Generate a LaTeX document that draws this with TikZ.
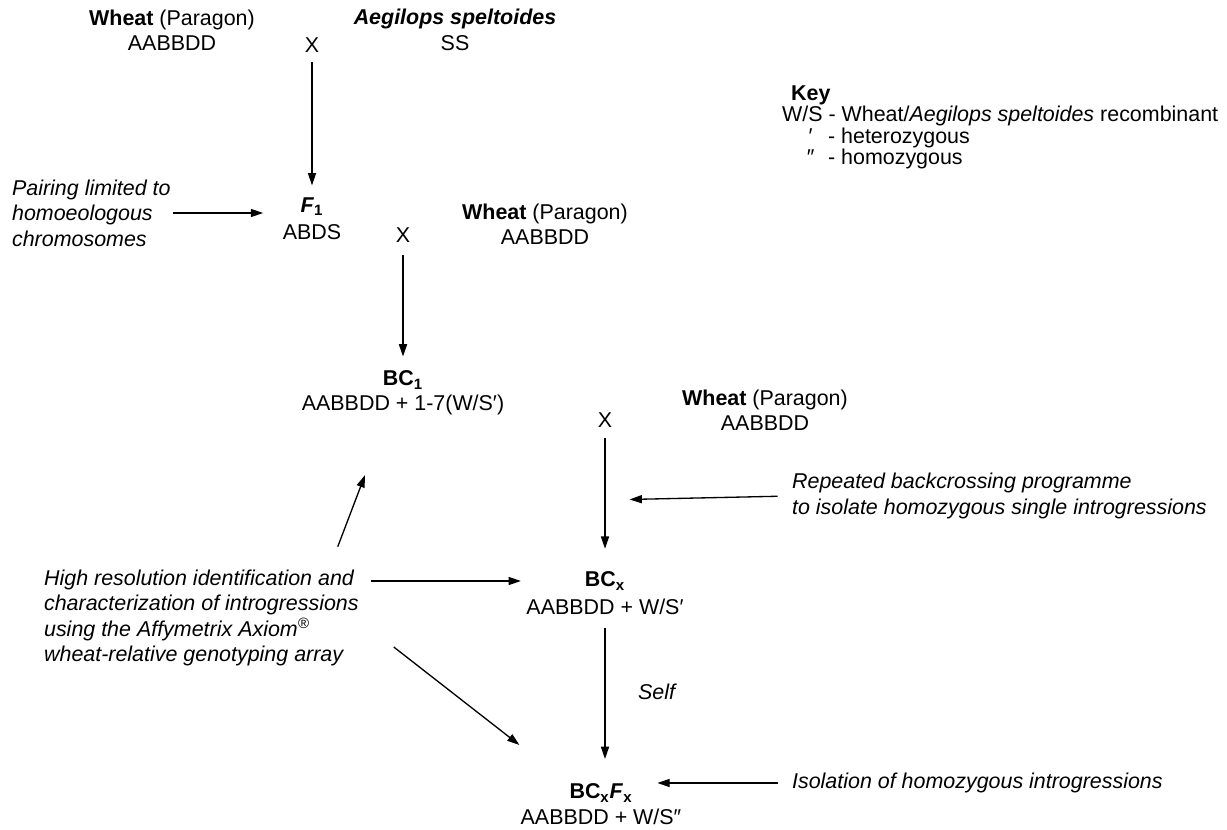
\documentclass[tikz,border=0pt]{standalone}
\usepackage{fontspec}
\setmainfont{Liberation Sans}
\usetikzlibrary{arrows.meta,calc}
\tikzset{
  txt/.style={font=\fontsize{12.2}{14.5}\selectfont, inner sep=1pt, align=center},
  note/.style={txt, font=\fontsize{12.2}{14.5}\selectfont\itshape, align=left},
  arr/.style={-{Triangle[length=7pt,width=4.6pt]}, line width=0.75pt},
}
\begin{document}
\begin{tikzpicture}[x=0.02cm,y=-0.02cm]
	\useasboundingbox (0,0) rectangle (1227,830);
	% first cross
	\node[txt] (wheat1) at (172,30) {\textbf{Wheat} (Paragon)\\AABBDD};
	\node[txt] (x1) at (312,45) {X};
	\node[txt] (aeg) at (455,30) {\textbf{\textit{Aegilops speltoides}}\\SS};
	\node[txt] (f1) at (312,207) {\textbf{\textit{F}}\textbf{\textsubscript{1}}};
	\node[txt] (f1g) at (312,232) {ABDS};
	\node[note,anchor=west] (pair) at (10,213) {Pairing limited to\\homoeologous\\chromosomes};
	\draw[arr, shorten <=4pt, shorten >=6pt] (x1) -- (f1);
	\draw[arr, shorten >=10pt] (pair.east) -- (pair.east -| f1g.west);
	% backcross
	\node[txt] (x2) at (403,235) {X};
	\node[txt] (wheat2) at (545,224) {\textbf{Wheat} (Paragon)\\AABBDD};
	\node[txt] (bc1) at (403,380) {\textbf{BC\textsubscript{1}}};
	\node[txt] (bc1g) at (403,405) {AABBDD + 1-7(W/S′)};
	\draw[arr, shorten <=6pt, shorten >=7pt] (x2) -- (bc1);
	% repeated backcross
	\node[txt] (x3) at (605,420) {X};
	\node[txt] (wheat3) at (765,410) {\textbf{Wheat} (Paragon)\\AABBDD};
	\node[txt] (bcx) at (605,581) {\textbf{BC\textsubscript{x}}};
	\node[txt] (bcxg) at (605,607) {AABBDD + W/S′};
	\node[note,anchor=west] (rep) at (790,496) {Repeated backcrossing programme\\to isolate homozygous single introgressions};
	\draw[arr, shorten <=5pt, shorten >=12pt] (x3) -- (bcx);
	\draw[arr, shorten <=7pt, shorten >=14pt] (rep.west) -- ($(rep.west -| x3)+(0,4)$);
	% genotyping
	\node[note,anchor=west] (hires) at (42,618) {High resolution identification and\\characterization of introgressions\\using the Affymetrix Axiom\textsuperscript{\textregistered}\\wheat-relative genotyping array};
	\draw[arr, shorten <=6pt, shorten >=2pt] (hires.east |- bcx) -- (bcxg.west |- bcx);
	\draw[arr] ($(hires.north east)+(-23,-21)$) -- ($(bc1g.south)+(-38,58)$);
	% selfing
	\node[txt] (bcxf) at (601,793) {\textbf{BC\textsubscript{x}\textit{F}\textsubscript{x}}};
	\node[txt] (bcxfg) at (601,817) {AABBDD + W/S″};
	\node[note,anchor=west] (self) at (636,692) {Self};
	\node[note,anchor=west] (iso) at (790,783) {Isolation of homozygous introgressions};
	\draw[arr, shorten <=6pt, shorten >=13pt] (bcxg.south) -- (bcxg.south |- bcxf.north);
	\draw[arr] ($(hires.east)+(33,29)$) -- ($(bcxf.west)+(-48,-48)$);
	\draw[arr, shorten <=7pt, shorten >=13pt] (iso.west) -- (iso.west -| bcxf.east);
	% key
	\node[txt,anchor=base west] (key) at (789,101) {\textbf{Key}};
	\node[txt,anchor=base west] (keyws) at (780,122) {W/S - Wheat/\textit{Aegilops speltoides} recombinant};
	\node[txt,anchor=base] (keyhet) at (810,144) {\textit{′}};
	\node[txt,anchor=base west] (keyhett) at (826,144) {- heterozygous};
	\node[txt,anchor=base] (keyhom) at (810,165) {\textit{″}};
	\node[txt,anchor=base west] (keyhomt) at (826,165) {- homozygous};
\end{tikzpicture}
\end{document}
